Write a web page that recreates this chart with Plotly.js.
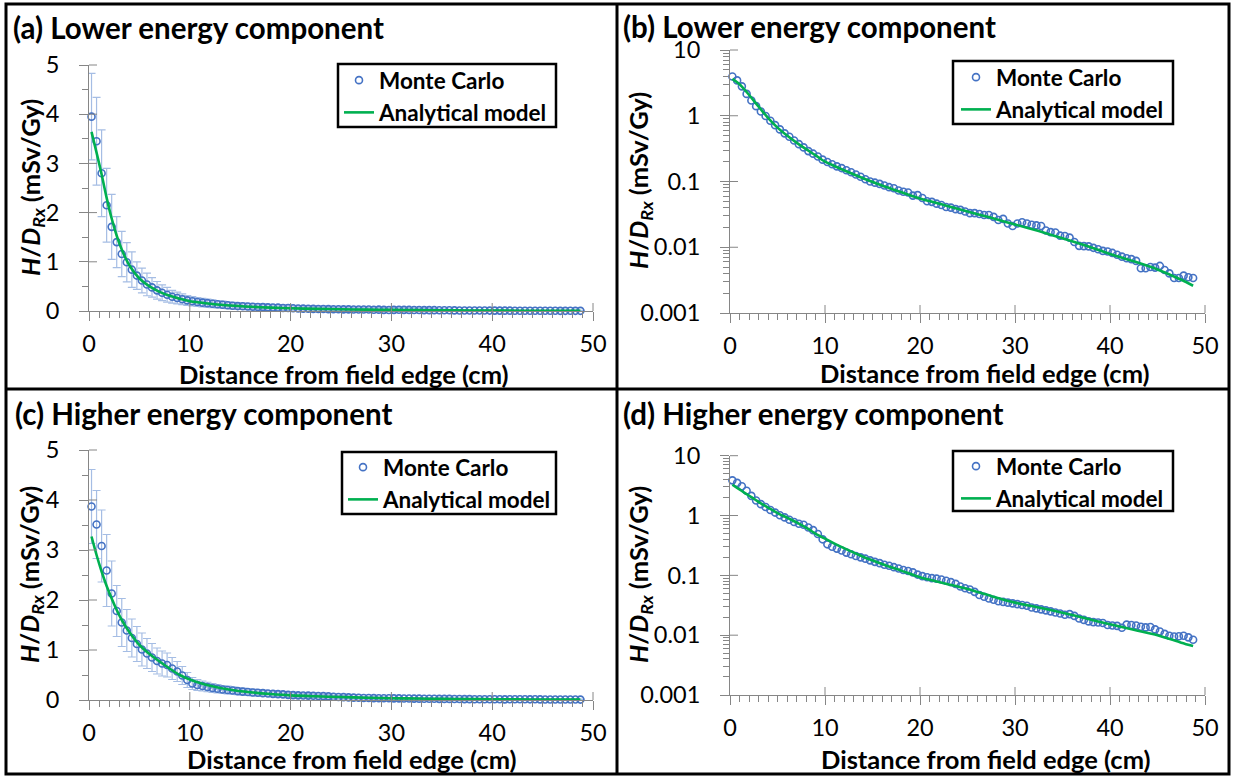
<!DOCTYPE html>
<html><head><meta charset="utf-8">
<script src="https://cdn.plot.ly/plotly-3.0.1.min.js"></script>
<style>html,body{margin:0;padding:0;background:#fff;} #chart{width:1238px;height:777px;}</style>
</head><body><div id="chart"></div>
<script>
// ---------- data ----------
const distanceMC = [
  0.25,0.75,1.25,1.75,2.25,2.75,3.25,3.75,4.25,4.75,
  5.25,5.75,6.25,6.75,7.25,7.75,8.25,8.75,9.25,9.75,
  10.25,10.75,11.25,11.75,12.25,12.75,13.25,13.75,14.25,14.75,
  15.25,15.75,16.25,16.75,17.25,17.75,18.25,18.75,19.25,19.75,
  20.25,20.75,21.25,21.75,22.25,22.75,23.25,23.75,24.25,24.75,
  25.25,25.75,26.25,26.75,27.25,27.75,28.25,28.75,29.25,29.75,
  30.25,30.75,31.25,31.75,32.25,32.75,33.25,33.75,34.25,34.75,
  35.25,35.75,36.25,36.75,37.25,37.75,38.25,38.75,39.25,39.75,
  40.25,40.75,41.25,41.75,42.25,42.75,43.25,43.75,44.25,44.75,
  45.25,45.75,46.25,46.75,47.25,47.75,48.25,48.75
];
const lowerMC = [
  3.95,3.45,2.80,2.15,1.71,1.40,1.16,0.99,0.84,0.72,
  0.62,0.54,0.48,0.42,0.37,0.33,0.29,0.265,0.24,0.215,
  0.198,0.183,0.17,0.16,0.148,0.138,0.128,0.118,0.108,0.1,
  0.096,0.092,0.087,0.082,0.079,0.073,0.07,0.068,0.061,0.062,
  0.056,0.05,0.049,0.046,0.044,0.041,0.04,0.038,0.037,0.035,
  0.033,0.033,0.032,0.031,0.031,0.029,0.026,0.027,0.023,0.021,
  0.023,0.024,0.023,0.022,0.0215,0.021,0.018,0.017,0.0168,0.015,
  0.0148,0.014,0.012,0.0105,0.0104,0.0103,0.0098,0.0093,0.0088,0.0086,
  0.0082,0.0077,0.0072,0.0068,0.0066,0.0062,0.0048,0.0048,0.005,0.0049,
  0.0052,0.0045,0.004,0.0034,0.0034,0.0037,0.0035,0.0034
];
const lowerErr = [
  0.88,0.89,0.88,0.75,0.66,0.52,0.46,0.40,0.36,0.28,
  0.25,0.23,0.20,0.18,0.16,0.15,0.13,0.12,0.11,0.10,
  0.095,0.09,0.085,0.08,0.078,0.075,0.072,0.07,0.068,0.066,
  0.065,0.064,0.063,0.062,0.061,0.06,0.06,0.059,0.058,0.057,
  0.056,0.055,0.055,0.054,0.053,0.052,0.052,0.051,0.05,0.05,
  0.05,0.049,0.048,0.048,0.047,0.047,0.046,0.045,0.045,0.044,
  0.044,0.043,0.043,0.042,0.042,0.041,0.04,0.035,0.03,0.025,
  0.022,0.02,0.018,0.017,0.016,0.015,0.015,0.014,0.014,0.013,
  0.013,0.012,0.012,0.012,0.011,0.011,0.01,0.01,0.01,0.01,
  0.01,0.009,0.009,0.009,0.009,0.009,0.008,0.008
];
const higherMC = [
  3.87,3.51,3.08,2.59,2.13,1.78,1.55,1.39,1.24,1.12,
  1.01,0.93,0.85,0.78,0.73,0.70,0.63,0.57,0.49,0.40,
  0.33,0.30,0.28,0.26,0.24,0.225,0.21,0.2,0.19,0.178,
  0.168,0.16,0.15,0.145,0.137,0.13,0.123,0.118,0.112,0.103,
  0.097,0.093,0.09,0.088,0.085,0.081,0.077,0.072,0.065,0.061,
  0.058,0.053,0.047,0.044,0.041,0.039,0.037,0.036,0.035,0.034,
  0.033,0.032,0.031,0.029,0.028,0.027,0.026,0.025,0.024,0.023,
  0.022,0.0225,0.021,0.019,0.018,0.017,0.0165,0.0163,0.016,0.0148,
  0.0145,0.0143,0.0133,0.015,0.0148,0.0145,0.0138,0.0135,0.0137,0.0125,
  0.0115,0.0105,0.0098,0.0095,0.0096,0.0098,0.0092,0.0084
];
const higherErr = [
  0.74,0.68,0.72,0.72,0.65,0.51,0.48,0.42,0.38,0.35,
  0.33,0.30,0.28,0.26,0.25,0.24,0.22,0.20,0.18,0.15,
  0.12,0.11,0.10,0.095,0.09,0.085,0.08,0.078,0.075,0.072,
  0.07,0.068,0.066,0.064,0.062,0.06,0.058,0.056,0.054,0.052,
  0.05,0.048,0.046,0.044,0.042,0.04,0.038,0.036,0.034,0.032,
  0.03,0.029,0.028,0.027,0.026,0.025,0.024,0.023,0.022,0.021,
  0.02,0.02,0.019,0.019,0.018,0.018,0.017,0.017,0.016,0.016,
  0.015,0.015,0.014,0.014,0.013,0.013,0.012,0.012,0.012,0.011,
  0.011,0.011,0.01,0.01,0.01,0.01,0.01,0.009,0.009,0.009,
  0.009,0.009,0.008,0.008,0.008,0.008,0.008,0.008
];
const distanceModel = [0.25,0.75,1.25,1.75,2.25,2.75,3.25,4,5,6,7,8,9,10,11,12,14,16,18,20,22.5,25,27.5,30,32.5,35,37.5,40,42.5,45,47.5,48.75];
const lowerModel = [3.64,3.22,2.78,2.3,1.88,1.53,1.25,0.93,0.66,0.5,0.39,0.31,0.25,0.2,0.172,0.148,0.112,0.087,0.069,0.055,0.044,0.035,0.028,0.0222,0.0176,0.0137,0.0105,0.0079,0.0061,0.0046,0.0032,0.0026];
const higherModel = [3.27,2.9,2.57,2.28,2.03,1.8,1.6,1.36,1.1,0.92,0.77,0.63,0.5,0.41,0.34,0.285,0.205,0.155,0.12,0.093,0.074,0.059,0.045,0.035,0.029,0.0237,0.019,0.0152,0.0123,0.01,0.0075,0.0066];

const panelTitles = ['(a) Lower energy component','(b) Lower energy component','(c) Higher energy component','(d) Higher energy component'];
const seriesNames = ['Monte Carlo','Analytical model'];
const xAxisTitle = 'Distance from field edge (cm)';
const yAxisTitle = '<i>H</i>/<i>D<sub>Rx</sub></i> (mSv/Gy)';
const xTickVals = [0,10,20,30,40,50];
const logTickVals = [0.001,0.01,0.1,1,10];
const logTickText = ['0.001','0.01','0.1','1','10'];
const linTickVals = [0,1,2,3,4,5];

// ---------- layout helpers ----------
const W = 1238, H = 777;
const px = v => v / W;
const py = v => 1 - v / H;
const FONT = 'Lato, "Open Sans", sans-serif';
const AXIS_COLOR = '#868686';
const MC_COLOR = '#4472C4';
const ERR_COLOR = '#A5BDE4';
const MODEL_COLOR = '#00B050';
const TICK_SIZE = 23.5;
const INNER_TICK = 8;

// panel geometry in pixels
const panels = [
  {box:[89,593,65,311], log:false, mc:lowerMC, err:lowerErr, model:lowerModel,
   legend:[339,59], legendBox:[338,556,64,127], title:[11,27], xt:[344,374], yt:[32,188]},
  {box:[730,1205,50,313], log:true, mc:lowerMC, err:null, model:lowerModel,
   legend:[956,56], legendBox:[953,1173,61,124], title:[621,26], xt:[985,373], yt:[640,181]},
  {box:[89,593,450,700], log:false, mc:higherMC, err:higherErr, model:higherModel,
   legend:[343,446], legendBox:[342,556,452,514], title:[13,413], xt:[352,759], yt:[31,575]},
  {box:[730,1205,455.7,695], log:true, mc:higherMC, err:null, model:higherModel,
   legend:[956,445], legendBox:[953,1173,451,511], title:[621,413], xt:[986,759], yt:[640,575]}
];

const minorLog = [];
[0.001,0.01,0.1,1].forEach(d => { for (let m = 2; m <= 9; m++) minorLog.push(+(d*m).toPrecision(3)); });

const traces = [];
const layout = {
  width: W, height: H, autosize:false,
  margin:{l:0,r:0,t:0,b:0,pad:0},
  paper_bgcolor:'#fff', plot_bgcolor:'#fff',
  font:{family:FONT, color:'#000'},
  showlegend:true,
  annotations:[], shapes:[]
};

panels.forEach((p, i) => {
  const n = i === 0 ? '' : String(i+1);
  const xa = 'x' + n, ya = 'y' + n;
  const legendId = 'legend' + n;
  const mcTrace = {
    type:'scatter', mode:'markers', name:seriesNames[0],
    x:distanceMC, y:p.mc, xaxis:xa, yaxis:ya, legend:legendId,
    marker:{symbol:'circle-open', size:7, color:MC_COLOR, line:{width:1.6, color:MC_COLOR}},
    cliponaxis:false, hoverinfo:'x+y'
  };
  if (p.err) {
    mcTrace.error_y = {type:'data', array:p.err, visible:true, color:ERR_COLOR, thickness:1.2, width:4};
  }
  const modelTrace = {
    type:'scatter', mode:'lines', name:seriesNames[1],
    x:distanceModel, y:p.model, xaxis:xa, yaxis:ya, legend:legendId,
    line:{color:MODEL_COLOR, width:2.6, shape:'spline', smoothing:0.8}
  };
  traces.push(mcTrace, modelTrace);

  const [x0, x1, yTop, yBot] = p.box;
  layout['xaxis' + n] = {
    domain:[px(x0), px(x1)], anchor:ya, range:[0,50],
    tickmode:'array', tickvals:xTickVals,
    ticks:'outside', ticklen:9, tickwidth:1, tickcolor:AXIS_COLOR,
    minor:{ticks:'outside', ticklen:6, tickwidth:1, tickcolor:AXIS_COLOR, dtick:1, tick0:0, showgrid:false},
    showline:true, linecolor:AXIS_COLOR, linewidth:1,
    showgrid:false, zeroline:false, fixedrange:true,
    tickfont:{family:FONT, size:TICK_SIZE, color:'#000'}, ticklabelstandoff:3
  };
  const yaxis = {
    domain:[py(yBot), py(yTop)], anchor:xa,
    ticks:'outside', ticklen:9, tickwidth:1, tickcolor:AXIS_COLOR,
    showline:true, linecolor:AXIS_COLOR, linewidth:1,
    showgrid:false, zeroline:false, fixedrange:true,
    tickfont:{family:FONT, size:TICK_SIZE, color:'#000'}, ticklabelstandoff:15
  };
  if (p.log) {
    Object.assign(yaxis, {type:'log', range:[-3,1], tickmode:'array', tickvals:logTickVals, ticktext:logTickText,
      minor:{ticks:'outside', ticklen:6, tickwidth:1, tickcolor:AXIS_COLOR, tickmode:'array', tickvals:minorLog, showgrid:false}});
  } else {
    Object.assign(yaxis, {type:'linear', range:[0,5], tickmode:'array', tickvals:linTickVals,
      minor:{ticks:'outside', ticklen:6, tickwidth:1, tickcolor:AXIS_COLOR, dtick:0.5, tick0:0, showgrid:false}});
  }
  layout['yaxis' + n] = yaxis;

  // inner half of the "cross" major ticks (positions taken from the tick value lists)
  const wPx = x1 - x0, hPx = yBot - yTop;
  const tickLine = {color:AXIS_COLOR, width:1};
  xTickVals.slice(1).forEach(v => layout.shapes.push({type:'line', xref:xa + ' domain', yref:ya + ' domain',
    x0:v/50, x1:v/50, y0:0, y1:INNER_TICK/hPx, line:tickLine, layer:'above'}));
  (p.log ? logTickVals : linTickVals).slice(1).forEach(v => {
    const f = p.log ? (Math.log10(v) + 3) / 4 : v / 5;
    layout.shapes.push({type:'line', xref:xa + ' domain', yref:ya + ' domain',
      x0:0, x1:INNER_TICK/wPx, y0:f, y1:f, line:tickLine, layer:'above'});
  });

  // legend text/symbols; its frame is drawn as a shape
  layout[legendId] = {
    x:px(p.legend[0]), y:py(p.legend[1]), xanchor:'left', yanchor:'top',
    xref:'paper', yref:'paper',
    bgcolor:'rgba(0,0,0,0)', borderwidth:0,
    font:{family:FONT, size:22.5, color:'#000', weight:'bold'},
    tracegroupgap:0, itemwidth:30, traceorder:'normal'
  };
  const [lx0, lx1, ly0, ly1] = p.legendBox;
  layout.shapes.push({type:'rect', xref:'paper', yref:'paper', layer:'above',
    x0:px(lx0), x1:px(lx1), y0:py(ly0), y1:py(ly1),
    fillcolor:'#fff', line:{color:'#000', width:2.5}});

  layout.annotations.push(
    {text:'<b>' + panelTitles[i] + '</b>', x:px(p.title[0]), y:py(p.title[1]), xref:'paper', yref:'paper',
     xanchor:'left', yanchor:'middle', showarrow:false, font:{family:FONT, size:29.5, color:'#000'}},
    {text:'<b>' + xAxisTitle + '</b>', x:px(p.xt[0]), y:py(p.xt[1]), xref:'paper', yref:'paper',
     xanchor:'center', yanchor:'middle', showarrow:false, font:{family:FONT, size:25.5, color:'#000'}},
    {text:'<b>' + yAxisTitle + '</b>', x:px(p.yt[0]), y:py(p.yt[1]), xref:'paper', yref:'paper',
     xanchor:'center', yanchor:'middle', textangle:-90, showarrow:false, font:{family:FONT, size:25.5, color:'#000'}}
  );
});

// panel frames
const frame = {color:'#000', width:3};
layout.shapes.push(
  {type:'rect', xref:'paper', yref:'paper', x0:px(6), x1:px(1229), y0:py(4), y1:py(774), line:frame},
  {type:'line', xref:'paper', yref:'paper', x0:px(617), x1:px(617), y0:py(4), y1:py(774), line:frame},
  {type:'line', xref:'paper', yref:'paper', x0:px(6), x1:px(1229), y0:py(389), y1:py(389), line:frame}
);

Plotly.newPlot('chart', traces, layout, {staticPlot:true, displayModeBar:false});
</script>
</body></html>
